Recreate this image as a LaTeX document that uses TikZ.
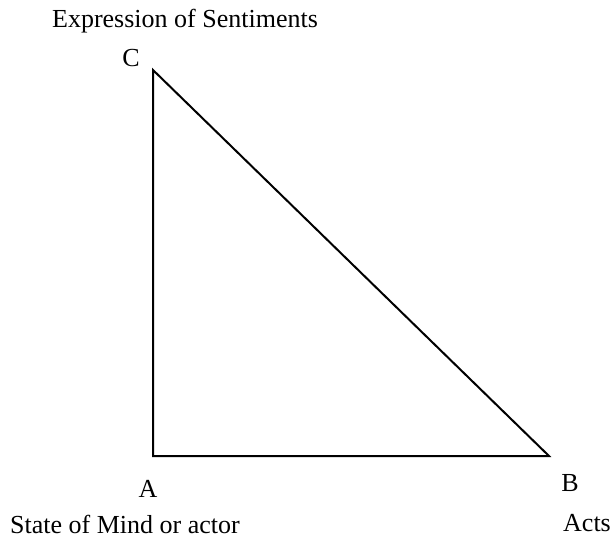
\documentclass[tikz,border=0pt]{standalone}
\usepackage{fontspec}
\setmainfont{Liberation Serif}
\usetikzlibrary{positioning}
\tikzset{lbl/.style={inner sep=0pt, anchor=base, font=\fontsize{13}{15}\selectfont}}

\begin{document}
\begin{tikzpicture}[x=0.5pt, y=-0.5pt]
\useasboundingbox (0,0) rectangle (613,539);

\coordinate (A) at (153,456);
\coordinate (B) at (549,456);
\coordinate (C) at (153,70);
\draw [line width=1pt, line join=miter] (C) -- (A) -- (B) -- cycle;

\node (a) [lbl] at (148,497) {A};
\node (b) [lbl] at (570,491) {B};
\node (c) [lbl] at (131,67) {C};

\node (mind) [lbl] at (125,533) {State of Mind or actor};
\node (acts) [lbl] at (587,531) {Acts};
\node (sent) [lbl] at (185,28) {Expression of Sentiments};
\end{tikzpicture}
\end{document}
